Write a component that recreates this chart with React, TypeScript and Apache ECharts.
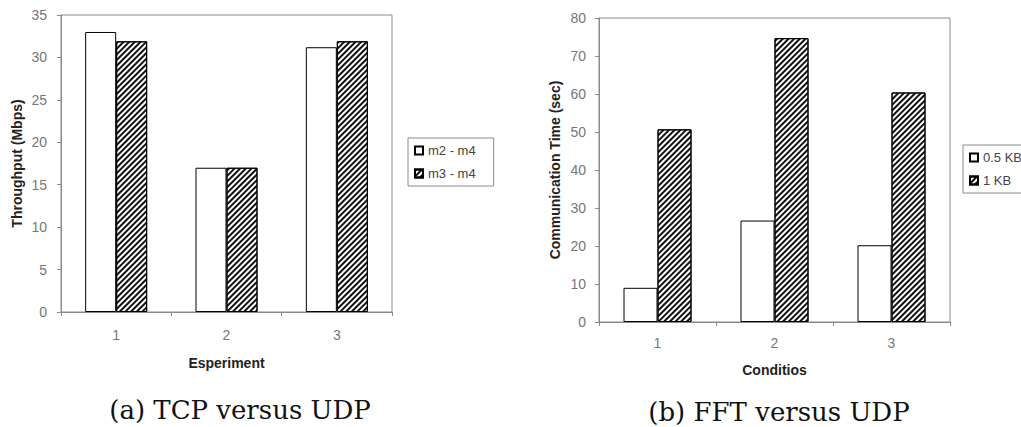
import React, { useEffect, useRef } from "react";
import * as echarts from "echarts";

const categoriesA = ["1", "2", "3"];
const seriesA1 = [33, 17, 31.2];
const seriesA2 = [31.9, 17, 31.9];
const namesA = ["m2 - m4", "m3 - m4"];

const categoriesB = ["1", "2", "3"];
const seriesB1 = [9, 26.7, 20.2];
const seriesB2 = [50.7, 74.7, 60.4];
const namesB = ["0.5 KB", "1 KB"];

const captionA = "(a) TCP versus UDP";
const captionB = "(b) FFT versus UDP";

const GRAY = "#8a8a8a";
const FONT = "Liberation Sans, Arial, sans-serif";

const hatch = {
  symbol: "rect",
  symbolSize: 1,
  dashArrayX: [1, 0],
  dashArrayY: [1.6, 1.6],
  rotation: -Math.PI / 4,
  color: "#111",
};

function xAxis(gridIndex: number, data: string[], name: string, nameGap: number, margin: number) {
  return {
    type: "category",
    gridIndex,
    data,
    name,
    nameLocation: "middle",
    nameGap,
    nameTextStyle: { fontFamily: FONT, fontWeight: "bold", fontSize: 14, color: "#222" },
    axisLine: { lineStyle: { color: GRAY, width: 1 } },
    axisTick: { show: true, length: 4, lineStyle: { color: GRAY } },
    axisLabel: { margin, fontFamily: FONT, fontSize: 14, color: "#777" },
    splitLine: { show: false },
  };
}

function yAxis(gridIndex: number, max: number, interval: number, name: string, margin: number) {
  return {
    type: "value",
    gridIndex,
    min: 0,
    max,
    interval,
    name,
    nameLocation: "middle",
    nameGap: 37,
    nameTextStyle: { fontFamily: FONT, fontWeight: "bold", fontSize: 14, color: "#222" },
    axisLine: { show: true, lineStyle: { color: GRAY, width: 1 } },
    axisTick: { show: true, length: 4, lineStyle: { color: GRAY } },
    axisLabel: { margin, fontFamily: FONT, fontSize: 14, color: "#777" },
    splitLine: { show: false },
  };
}

function legend(data: string[], left: number, top: number) {
  return {
    data,
    left,
    top,
    orient: "vertical",
    icon: "rect",
    itemWidth: 8,
    itemHeight: 8,
    itemGap: 10,
    padding: [6, 18, 6, 6],
    borderColor: GRAY,
    borderWidth: 1,
    backgroundColor: "#fff",
    textStyle: { fontFamily: FONT, fontSize: 13, color: "#444" },
  };
}

export default function App() {
  const ref = useRef<HTMLDivElement>(null);
  useEffect(() => {
    if (!ref.current) return;
    const chart = echarts.init(ref.current, null, { renderer: "svg" });
    const plain = { color: "#fff", borderColor: "#000", borderWidth: 1 };
    const hatched = { color: "#fff", borderColor: "#000", borderWidth: 1, decal: hatch };
    chart.setOption({
      animation: false,
      backgroundColor: "#fff",
      grid: [
        { left: 61, top: 15, width: 331, height: 297, show: true, borderColor: GRAY, borderWidth: 1 },
        { left: 599, top: 18, width: 351, height: 304, show: true, borderColor: GRAY, borderWidth: 1 },
      ],
      xAxis: [
        xAxis(0, categoriesA, "Esperiment", 44, 16),
        xAxis(1, categoriesB, "Conditios", 41, 14),
      ],
      yAxis: [
        yAxis(0, 35, 5, "Throughput (Mbps)", 14),
        yAxis(1, 80, 10, "Communication Time (sec)", 13),
      ],
      legend: [legend(namesA, 408, 138), legend(namesB, 963, 145)],
      series: [
        { type: "bar", name: namesA[0], data: seriesA1, xAxisIndex: 0, yAxisIndex: 0, barWidth: 31, barGap: "0%", itemStyle: plain },
        { type: "bar", name: namesA[1], data: seriesA2, xAxisIndex: 0, yAxisIndex: 0, barWidth: 31, barGap: "0%", itemStyle: hatched },
        { type: "bar", name: namesB[0], data: seriesB1, xAxisIndex: 1, yAxisIndex: 1, barWidth: 34, barGap: "0%", itemStyle: plain },
        { type: "bar", name: namesB[1], data: seriesB2, xAxisIndex: 1, yAxisIndex: 1, barWidth: 34, barGap: "0%", itemStyle: hatched },
      ],
      graphic: [
        {
          type: "text",
          x: 240,
          y: 410,
          style: { text: captionA, textAlign: "center", textVerticalAlign: "middle", font: '26px "DejaVu Serif"', fill: "#111" },
        },
        {
          type: "text",
          x: 779,
          y: 412,
          style: { text: captionB, textAlign: "center", textVerticalAlign: "middle", font: '26px "DejaVu Serif"', fill: "#111" },
        },
      ],
    });
    return () => chart.dispose();
  }, []);
  return (
    <div
      ref={ref}
      style={{ position: "fixed", left: 0, top: 0, width: 1021, height: 427, background: "#fff" }}
    />
  );
}
